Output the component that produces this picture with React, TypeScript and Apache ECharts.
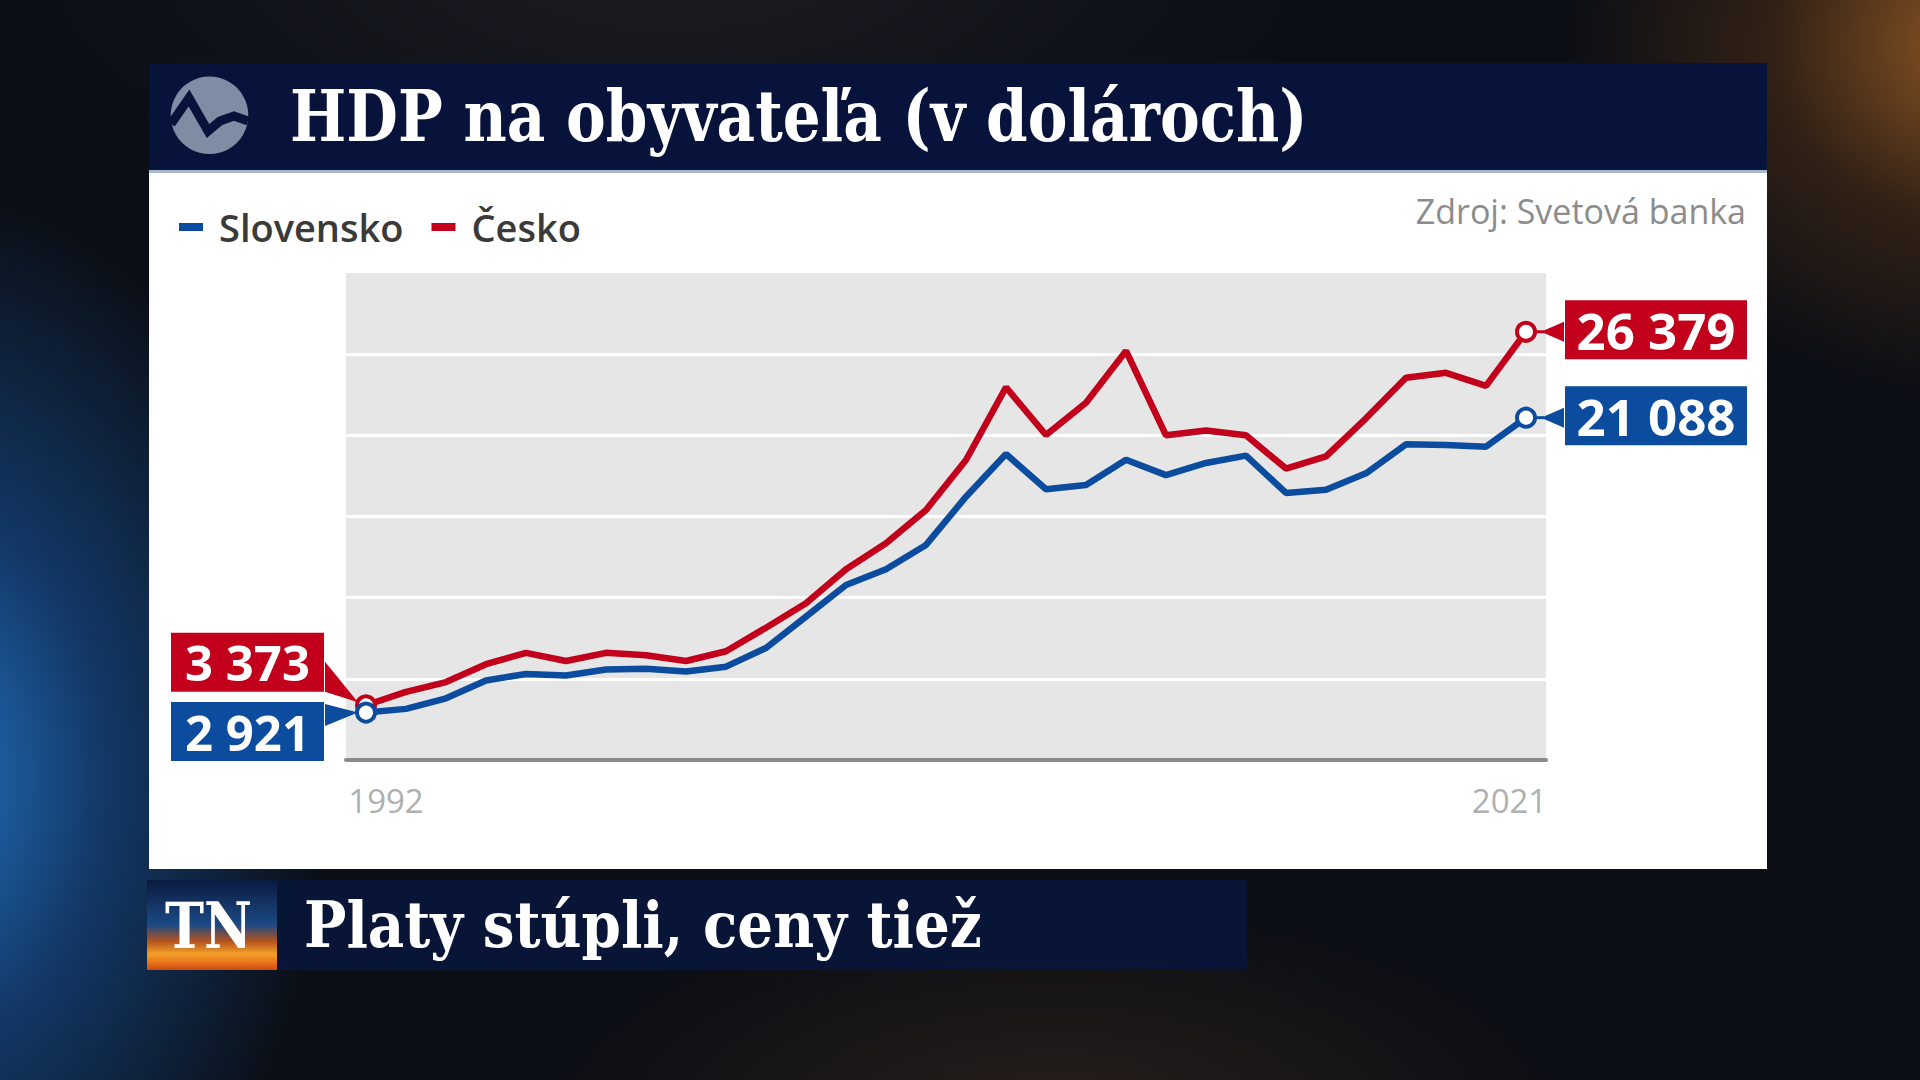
import React, { useEffect, useRef } from "react";
import * as echarts from "echarts";

// ---- data ----
const years = [
  "1992", "1993", "1994", "1995", "1996", "1997", "1998", "1999", "2000", "2001",
  "2002", "2003", "2004", "2005", "2006", "2007", "2008", "2009", "2010", "2011",
  "2012", "2013", "2014", "2015", "2016", "2017", "2018", "2019", "2020", "2021",
];
const cesko = [
  3373, 4200, 4800, 5900, 6600, 6100, 6600, 6450, 6100, 6700,
  8150, 9650, 11750, 13350, 15400, 18480, 22960, 20020, 22010, 25200,
  20000, 20300, 20000, 17950, 18700, 21050, 23550, 23850, 23050, 26379,
];
const slovensko = [
  2921, 3150, 3800, 4900, 5300, 5200, 5580, 5620, 5450, 5750,
  6900, 8830, 10780, 11750, 13250, 16220, 18850, 16675, 16940, 18500,
  17550, 18300, 18750, 16450, 16650, 17660, 19450, 19400, 19300, 21088,
];
const legendNames = ["Slovensko", "Česko"];
const yMin = 0;
const yMax = 30000;
const yStep = 5000;
const titleText = "HDP na obyvateľa (v dolároch)";
const sourceText = "Zdroj: Svetová banka";
const tickerText = "Platy stúpli, ceny tiež";
const logoText = "TN";

// ---- styles ----
const RED = "#c2001b";
const BLUE = "#0c4c9f";
const NAVY = "#07133a";
const SANS = '"Open Sans", "Noto Sans", sans-serif';
const SLAB = '"DejaVu Serif", serif';

const fmt = (v: number) => String(v).replace(/\B(?=(\d{3})+(?!\d))/g, " ");

function measure(text: string, font: string) {
  const c = document.createElement("canvas").getContext("2d")!;
  c.font = font;
  return c.measureText(text).width;
}

function endItem(v: number, color: string, side: "left" | "right", dy: number, w: number, fs: number) {
  return {
    value: v,
    symbol: "circle",
    symbolSize: 18,
    itemStyle: { color: "#ffffff", borderColor: color, borderWidth: 4 },
    label: {
      show: true,
      position: side,
      distance: side === "left" ? 31 : 28,
      offset: [0, dy],
      formatter: "{v|" + fmt(v) + "}",
      rich: {
        v: {
          width: w,
          height: 59,
          lineHeight: 59,
          align: "center",
          verticalAlign: "middle",
          backgroundColor: color,
          color: "#ffffff",
          fontSize: fs,
          fontWeight: "bold",
          fontFamily: SANS,
        },
      },
    },
  };
}

function seriesData(values: number[], color: string, leftDy: number) {
  return values.map((v, i) => {
    if (i === 0) return endItem(v, color, "left", leftDy, 153, 49);
    if (i === values.length - 1) return endItem(v, color, "right", -2, 182, 51);
    return v;
  });
}

function baseGraphics() {
  const titleFont = `bold 71px ${SLAB}`;
  const tickFont = `bold 63px ${SLAB}`;
  const tnFont = `bold 64px ${SLAB}`;
  const sTitle = 1018 / measure(titleText, titleFont);
  const sTick = 678 / measure(tickerText, tickFont);
  const sTn = 87 / measure(logoText, tnFont);
  return [
    // title bar
    { type: "rect", id: "titlebar", z: -5, shape: { x: 149, y: 63, width: 1618, height: 109 }, style: { fill: NAVY } },
    { type: "rect", id: "titleline", z: -4, shape: { x: 149, y: 170, width: 1618, height: 3 }, style: { fill: "#a8b8cf" } },
    // white panel
    { type: "rect", id: "panel", z: -5, shape: { x: 149, y: 173, width: 1618, height: 696 }, style: { fill: "#ffffff" } },
    // logo
    { type: "circle", id: "logoC", z: -3, shape: { cx: 209.5, cy: 115.3, r: 38.8 }, style: { fill: "#7e8ca4" } },
    {
      type: "polyline",
      id: "logoW",
      z: -2,
      shape: { points: [[171, 124], [189, 98], [208, 131], [220, 121], [234, 116], [248, 121]] },
      style: { stroke: NAVY, lineWidth: 9, fill: null, lineJoin: "miter" },
    },
    {
      type: "text",
      id: "title",
      z: -2,
      x: 290,
      y: 116,
      scaleX: sTitle,
      style: { text: titleText, fill: "#ffffff", font: titleFont, verticalAlign: "middle", align: "left" },
    },
    {
      type: "text",
      id: "source",
      z: -2,
      x: 1746,
      y: 211,
      style: { text: sourceText, fill: "#8c8c8c", fontSize: 34, fontWeight: 500, fontFamily: SANS, verticalAlign: "middle", align: "right" },
    },
    // bottom ticker
    {
      type: "rect",
      id: "tnbox",
      z: -5,
      shape: { x: 147, y: 880, width: 130, height: 90 },
      style: {
        fill: new echarts.graphic.LinearGradient(0, 0, 0, 1, [
          { offset: 0, color: "#0a1a3e" },
          { offset: 0.5, color: "#1c4a86" },
          { offset: 0.68, color: "#b5521e" },
          { offset: 0.82, color: "#f2a027" },
          { offset: 0.92, color: "#e8721a" },
          { offset: 1, color: "#c84a12" },
        ]),
      },
    },
    {
      type: "text",
      id: "tn",
      z: -2,
      x: 165,
      y: 926,
      scaleX: sTn,
      style: { text: logoText, fill: "#ffffff", font: tnFont, verticalAlign: "middle", align: "left" },
    },
    {
      type: "rect",
      id: "tickbar",
      z: -5,
      shape: { x: 277, y: 880, width: 970, height: 90 },
      style: { fill: "rgba(8,22,56,0.95)" },
    },
    {
      type: "text",
      id: "ticker",
      z: -2,
      x: 304,
      y: 925,
      scaleX: sTick,
      style: { text: tickerText, fill: "#ffffff", font: tickFont, verticalAlign: "middle", align: "left" },
    },
  ];
}

function buildOption(extra: any[]) {
  return {
    animation: false,
    backgroundColor: "transparent",
    legend: {
      data: legendNames,
      left: 179,
      top: 208,
      padding: 0,
      icon: "rect",
      itemWidth: 24,
      itemHeight: 8,
      itemGap: 28,
      selectedMode: false,
      textStyle: { fontSize: 38, color: "#3a3a3a", fontFamily: SANS, fontWeight: 600, padding: [0, 0, 0, 11] },
    },
    grid: {
      left: 346,
      top: 273,
      width: 1200,
      height: 487,
      show: true,
      backgroundColor: "#e6e6e6",
      borderWidth: 0,
      containLabel: false,
    },
    xAxis: {
      type: "category",
      data: years,
      boundaryGap: true,
      axisLine: { show: true, lineStyle: { color: "#8a8a8a", width: 4 } },
      axisTick: { show: false },
      splitLine: { show: false },
      axisLabel: {
        interval: (i: number) => i === 0 || i === years.length - 1,
        margin: 24,
        color: "#b0b0b0",
        fontSize: 33,
        fontFamily: SANS,
        formatter: (v: string, i: number) => (i === 0 ? `{l|${v}}` : `{r|${v}}`),
        rich: {
          l: { padding: [0, 0, 0, 40], color: "#b0b0b0", fontSize: 33, fontFamily: SANS },
          r: { padding: [0, 33, 0, 0], color: "#b0b0b0", fontSize: 33, fontFamily: SANS },
        },
      },
    },
    yAxis: {
      type: "value",
      min: yMin,
      max: yMax,
      interval: yStep,
      axisLine: { show: false },
      axisTick: { show: false },
      axisLabel: { show: false },
      splitLine: { show: true, showMaxLine: false, lineStyle: { color: "#ffffff", width: 3 } },
    },
    series: [
      {
        name: "Česko",
        type: "line",
        color: RED,
        symbol: "none",
        showAllSymbol: true,
        lineStyle: { color: RED, width: 6.5 },
        itemStyle: { color: RED },
        emphasis: { disabled: true },
        z: 3,
        data: seriesData(cesko, RED, -43),
      },
      {
        name: "Slovensko",
        type: "line",
        color: BLUE,
        symbol: "none",
        showAllSymbol: true,
        lineStyle: { color: BLUE, width: 6.5 },
        itemStyle: { color: BLUE },
        emphasis: { disabled: true },
        z: 4,
        data: seriesData(slovensko, BLUE, 19),
      },
    ],
    graphic: [...baseGraphics(), ...extra],
  };
}

function buildWedges(chart: any) {
  const last = years.length - 1;
  const p = (i: number, v: number) => chart.convertToPixel({ gridIndex: 0 }, [i, v]) as number[];
  const r0 = p(0, cesko[0]);
  const b0 = p(0, slovensko[0]);
  const r1 = p(last, cesko[last]);
  const b1 = p(last, slovensko[last]);
  const out: any[] = [];
  // left wedges
  const rBoxBottom = r0[1] - 43 + 29.5;
  out.push({
    type: "polygon",
    id: "wR0",
    z: 1,
    shape: { points: [[r0[0] - 41, rBoxBottom - 30], [r0[0] - 41, rBoxBottom], [r0[0] - 8, r0[1] - 3]] },
    style: { fill: RED },
  });
  const bBoxTop = b0[1] + 19 - 29.5;
  out.push({
    type: "polygon",
    id: "wB0",
    z: 1,
    shape: { points: [[b0[0] - 41, bBoxTop + 2], [b0[0] - 41, bBoxTop + 24], [b0[0] - 8, b0[1]]] },
    style: { fill: BLUE },
  });
  // right pointers
  [[r1, RED, "R1"], [b1, BLUE, "B1"]].forEach(([pt, col, id]: any) => {
    out.push({
      type: "line",
      id: "l" + id,
      z: 1,
      shape: { x1: pt[0], y1: pt[1], x2: pt[0] + 18, y2: pt[1] },
      style: { stroke: col, lineWidth: 3 },
    });
    out.push({
      type: "polygon",
      id: "w" + id,
      z: 1,
      shape: { points: [[pt[0] + 15, pt[1]], [pt[0] + 38, pt[1] - 10], [pt[0] + 38, pt[1] + 10]] },
      style: { fill: col },
    });
  });
  return out;
}

export default function App() {
  const ref = useRef<HTMLDivElement>(null);
  useEffect(() => {
    document.body.style.margin = "0";
    const chart = echarts.init(ref.current!, null, { renderer: "svg", width: 1920, height: 1080 });
    chart.setOption(buildOption([]));
    const wedges = buildWedges(chart);
    chart.setOption(buildOption(wedges), { notMerge: true });
    return () => chart.dispose();
  }, []);
  return (
    <div
      ref={ref}
      style={{
        position: "fixed",
        left: 0,
        top: 0,
        width: 1920,
        height: 1080,
        background:
          "radial-gradient(ellipse 520px 760px at -4% 72%, rgba(38,120,205,0.95) 0%, rgba(22,78,145,0.65) 35%, rgba(10,25,50,0) 78%)," +
          "radial-gradient(ellipse 560px 460px at 104% 4%, rgba(175,105,40,0.85) 0%, rgba(95,55,22,0.45) 40%, rgba(0,0,0,0) 78%)," +
          "radial-gradient(ellipse 700px 300px at 55% 104%, rgba(70,48,30,0.5) 0%, rgba(0,0,0,0) 75%)," +
          "radial-gradient(ellipse 900px 400px at 35% -5%, rgba(40,40,45,0.6) 0%, rgba(0,0,0,0) 75%)," +
          "#0b0e15",
      }}
    />
  );
}
